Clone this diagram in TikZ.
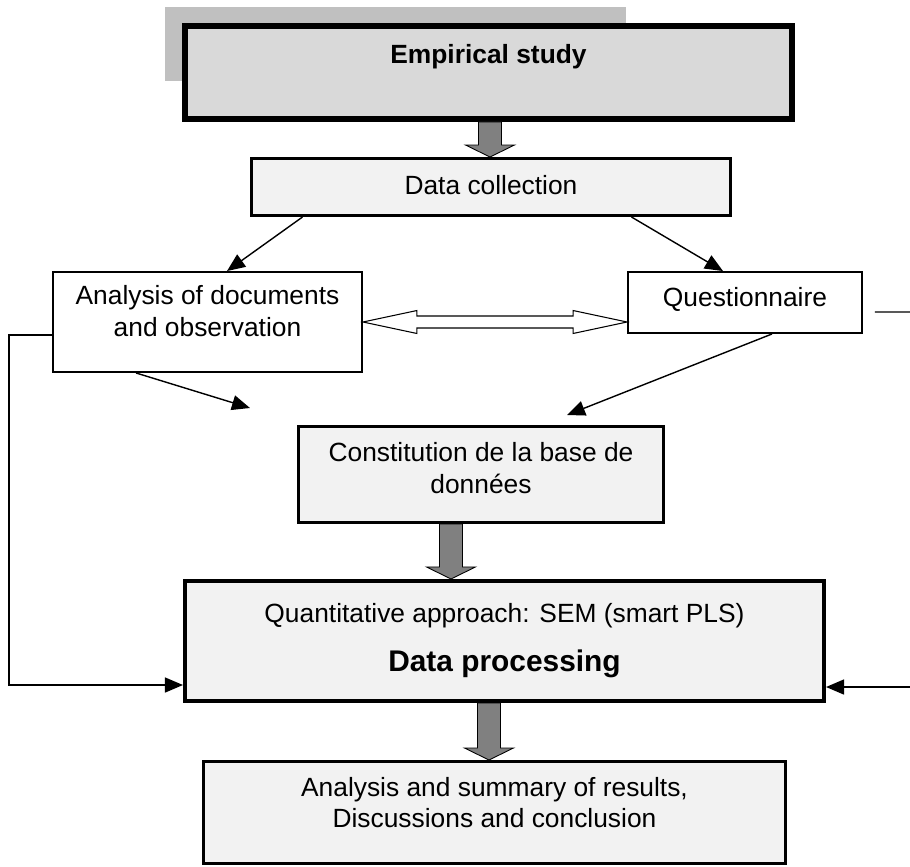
\documentclass[tikz,border=0pt]{standalone}
\usepackage{fontspec}
\setmainfont{Liberation Sans}
\usetikzlibrary{arrows.meta,calc}

\definecolor{shadowgray}{HTML}{C0C0C0}
\definecolor{boxgray}{HTML}{D9D9D9}
\definecolor{lightbox}{HTML}{F2F2F2}
\definecolor{arrowgray}{HTML}{808080}

\tikzset{
  box/.style={draw, rectangle, inner sep=0pt, align=center, font=\fontsize{15}{18}\selectfont},
  conn/.style={line width=0.8pt, -{Triangle[length=0.36cm,width=0.3cm]}},
  bigarrow/.style={draw, fill=arrowgray, line width=0.5pt}
}

\begin{document}
\begin{tikzpicture}
\useasboundingbox (0,0) rectangle (18.2,-17.34);
\fill[shadowgray] (3.30,-0.14) rectangle (12.52,-1.62);
\node[box, line width=3.4pt, fill=boxgray, minimum width=12.14cm, minimum height=1.86cm, text height=0.4cm, text depth=0.76cm, font=\fontsize{15}{18}\selectfont\bfseries] (emp) at (9.77,-1.45) {Empirical study};
\node[box, line width=1.7pt, fill=lightbox, minimum width=9.58cm, minimum height=1.14cm, text height=0.4cm, text depth=0.12cm] (coll) at (9.82,-3.74) {Data collection};
\node[box, line width=1.1pt, fill=white, minimum width=6.18cm, minimum height=2.0cm, text depth=0.45cm] (ana) at (4.15,-6.44) {Analysis of documents\\and observation};
\node[box, line width=1.1pt, fill=white, minimum width=4.68cm, minimum height=1.22cm, text height=0.4cm, text depth=0.26cm] (ques) at (14.90,-6.05) {Questionnaire};
\node[box, line width=1.7pt, fill=lightbox, minimum width=7.30cm, minimum height=1.92cm, text depth=0.25cm] (cons) at (9.62,-9.49) {Constitution de la base de\\données};
\node[box, line width=2.3pt, fill=lightbox, minimum width=12.78cm, minimum height=2.40cm] (proc) at (10.09,-12.82) {Quantitative approach: SEM (smart PLS)\\[10pt]{\fontsize{17}{20}\selectfont\bfseries Data processing}};
\node[box, line width=1.7pt, fill=lightbox, minimum width=11.64cm, minimum height=2.04cm, text depth=0.4cm] (res) at (9.89,-16.25) {Analysis and summary of results,\\Discussions and conclusion};

\foreach \x/\a/\b in {9.80/emp/coll, 9.02/cons/proc, 9.78/proc/res}
  \draw[bigarrow] ($(\x,0 |- \a.south)+(-0.23,0)$) -- ($(\x,0 |- \b.north)+(-0.23,0.24)$) -- ($(\x,0 |- \b.north)+(-0.49,0.24)$) -- (\x,0 |- \b.north) -- ($(\x,0 |- \b.north)+(0.49,0.24)$) -- ($(\x,0 |- \b.north)+(0.23,0.24)$) -- ($(\x,0 |- \a.south)+(0.23,0)$) -- cycle;

\coordinate (inL) at (5.00,-8.16);
\coordinate (inR) at (11.34,-8.30);
\coordinate (dq) at (ques.west |- ana.east);
\coordinate (qout) at (18.2,-6.24);
\coordinate (pin) at (18.2,-13.74);

\draw[conn] ([xshift=1.05cm]coll.south west) -- ([xshift=0.39cm]ana.north);
\draw[conn] ([xshift=-2.01cm]coll.south east) -- ([xshift=-0.44cm]ques.north);
\draw[conn] ([xshift=-1.43cm]ana.south) -- (inL);
\draw[conn] ([xshift=0.54cm]ques.south) -- (inR);

\draw[fill=white, line width=0.6pt] (ana.east) -- ([xshift=1.08cm,yshift=0.23cm]ana.east) -- ([xshift=1.08cm,yshift=0.12cm]ana.east) -- ([xshift=-1.08cm,yshift=0.12cm]dq) -- ([xshift=-1.08cm,yshift=0.23cm]dq) -- (dq) -- ([xshift=-1.08cm,yshift=-0.23cm]dq) -- ([xshift=-1.08cm,yshift=-0.12cm]dq) -- ([xshift=1.08cm,yshift=-0.12cm]ana.east) -- ([xshift=1.08cm,yshift=-0.23cm]ana.east) -- cycle;

\draw[conn] ([yshift=-0.26cm]ana.west) -- ++(-0.86,0) |- ([yshift=-0.88cm]proc.west);
\draw[line width=0.8pt] ([xshift=0.24cm,yshift=-0.19cm]ques.east) -- (qout);
\draw[conn] (pin) -- (proc.east |- pin);
\end{tikzpicture}
\end{document}
